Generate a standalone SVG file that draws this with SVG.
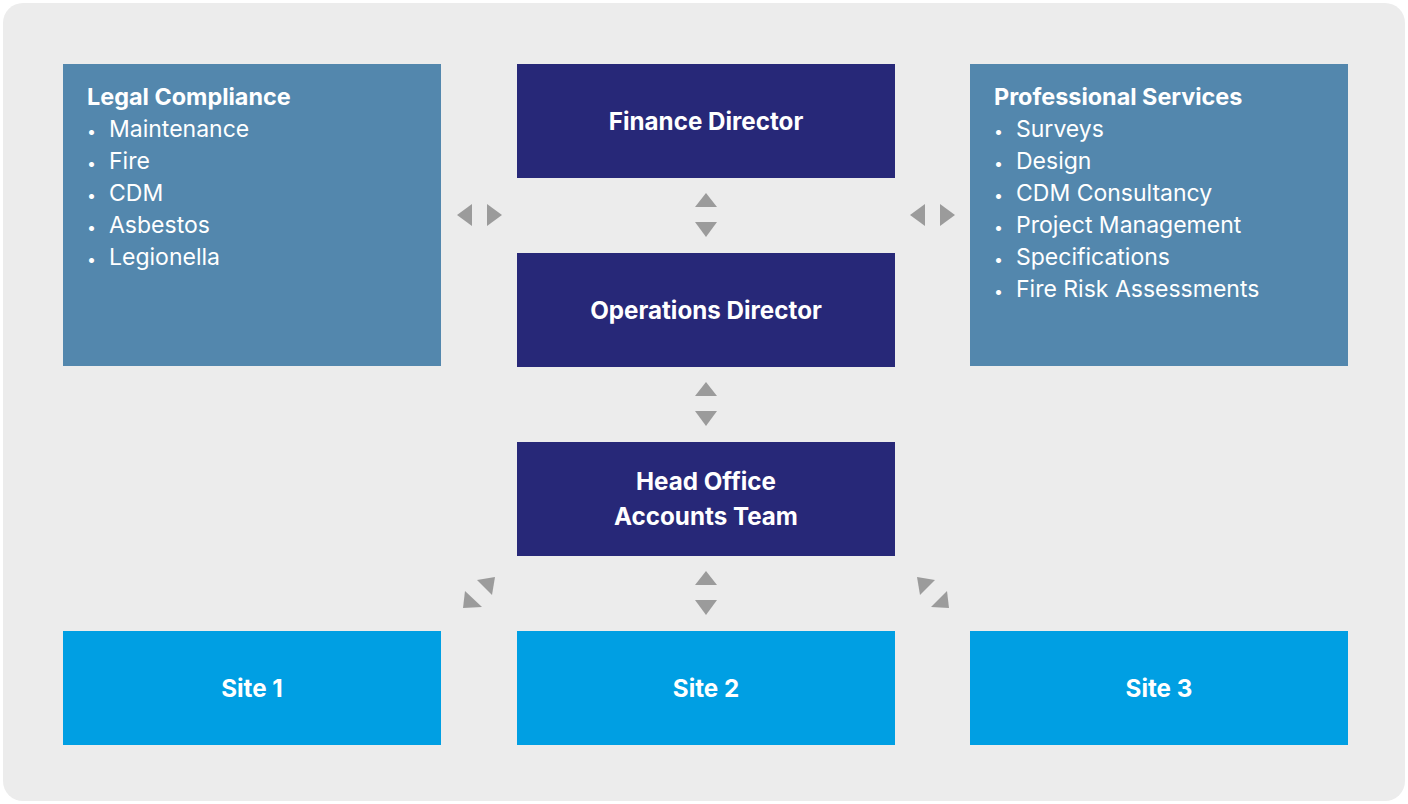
<svg xmlns="http://www.w3.org/2000/svg" width="1408" height="804" viewBox="0 0 1408 804">
<style>
.t{font-family:Inter,"Noto Sans",sans-serif;fill:#fff;font-size:23px}
.b{font-weight:bold}
.h{font-size:23.4px}
.c{text-anchor:middle;font-size:24.2px}
.d{font-size:16px}
.navy{fill:#272878}
.steel{fill:#5387ad}
.sky{fill:#009fe3}
.arr{fill:#9b9b9b}
</style>
<rect x="3" y="3" width="1402" height="798" rx="20" fill="#ececec"/>
<g id="legal">
<rect class="steel" x="63" y="64" width="378" height="302"/>
<text class="t b h" x="87" y="105">Legal Compliance</text>
<text class="t" x="87" y="137"><tspan class="d">•</tspan><tspan x="109">Maintenance</tspan></text>
<text class="t" x="87" y="169"><tspan class="d">•</tspan><tspan x="109">Fire</tspan></text>
<text class="t" x="87" y="201"><tspan class="d">•</tspan><tspan x="109">CDM</tspan></text>
<text class="t" x="87" y="233"><tspan class="d">•</tspan><tspan x="109">Asbestos</tspan></text>
<text class="t" x="87" y="265"><tspan class="d">•</tspan><tspan x="109">Legionella</tspan></text>
</g>
<g id="finance">
<rect class="navy" x="517" y="64" width="378" height="114"/>
<text class="t b c" x="706" y="130">Finance Director</text>
</g>
<g id="operations">
<rect class="navy" x="517" y="253" width="378" height="114"/>
<text class="t b c" x="706" y="319">Operations Director</text>
</g>
<g id="headoffice">
<rect class="navy" x="517" y="442" width="378" height="114"/>
<text class="t b c" x="706" y="490">Head Office</text>
<text class="t b c" x="706" y="525">Accounts Team</text>
</g>
<g id="professional">
<rect class="steel" x="970" y="64" width="378" height="302"/>
<text class="t b h" x="994" y="105">Professional Services</text>
<text class="t" x="994" y="137"><tspan class="d">•</tspan><tspan x="1016">Surveys</tspan></text>
<text class="t" x="994" y="169"><tspan class="d">•</tspan><tspan x="1016">Design</tspan></text>
<text class="t" x="994" y="201"><tspan class="d">•</tspan><tspan x="1016">CDM Consultancy</tspan></text>
<text class="t" x="994" y="233"><tspan class="d">•</tspan><tspan x="1016">Project Management</tspan></text>
<text class="t" x="994" y="265"><tspan class="d">•</tspan><tspan x="1016">Specifications</tspan></text>
<text class="t" x="994" y="297"><tspan class="d">•</tspan><tspan x="1016">Fire Risk Assessments</tspan></text>
</g>
<g id="site1">
<rect class="sky" x="63" y="631" width="378" height="114"/>
<text class="t b c" x="252" y="697">Site 1</text>
</g>
<g id="site2">
<rect class="sky" x="517" y="631" width="378" height="114"/>
<text class="t b c" x="706" y="697">Site 2</text>
</g>
<g id="site3">
<rect class="sky" x="970" y="631" width="378" height="114"/>
<text class="t b c" x="1159" y="697">Site 3</text>
</g>
<g id="connectors">
<polygon class="arr" points="457,215 472,204 472,226"/>
<polygon class="arr" points="487,204 502,215 487,226"/>
<polygon class="arr" points="910,215 925,204 925,226"/>
<polygon class="arr" points="940,204 955,215 940,226"/>
<polygon class="arr" points="695,207 717,207 706,193"/>
<polygon class="arr" points="695,222 717,222 706,237"/>
<polygon class="arr" points="695,396 717,396 706,382"/>
<polygon class="arr" points="695,411 717,411 706,426"/>
<polygon class="arr" points="695,585 717,585 706,571"/>
<polygon class="arr" points="695,600 717,600 706,615"/>
<polygon class="arr" points="477,580 495,577 492,595"/>
<polygon class="arr" points="465,591 463,608 482,607"/>
<polygon class="arr" points="917,577 935,580 920,595"/>
<polygon class="arr" points="947,591 949,608 931,607"/>
</g>
</svg>
